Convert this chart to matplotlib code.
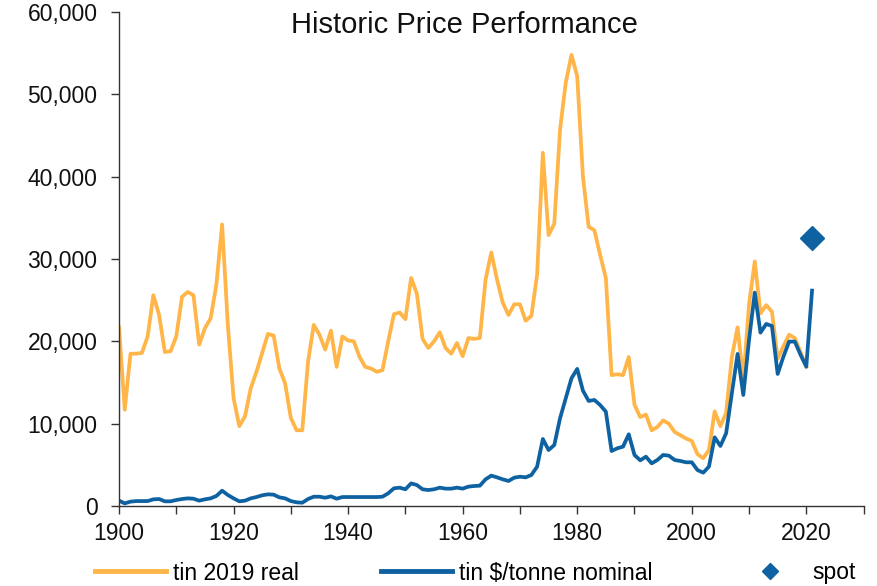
import matplotlib.pyplot as plt
import matplotlib.ticker as mticker
from matplotlib.lines import Line2D

plt.rcParams['font.family'] = ['Liberation Sans', 'DejaVu Sans']

# tin 2019 real, 1900-2020
real_years = list(range(1900, 2021))
real = [21700, 11700, 18500, 18500, 18600, 20600, 25600, 23200, 18700, 18800,
        20600, 25400, 26000, 25600, 19600, 21600, 22800, 26900, 34200, 22000,
        13100, 9700, 10900, 14300, 16300, 18600, 20900, 20700, 16700, 14900,
        10700, 9200, 9200, 17500, 22000, 20800, 19000, 21300, 16900, 20600,
        20100, 20000, 18100, 16900, 16700, 16300, 16500, 20000, 23300, 23500,
        22700, 27700, 25800, 20300, 19200, 20000, 21100, 19200, 18500, 19800,
        18200, 20400, 20300, 20400, 27500, 30800, 27500, 24700, 23200, 24500,
        24500, 22500, 23100, 28100, 42900, 32900, 34300, 45700, 51400, 54800,
        52200, 40000, 33900, 33500, 30500, 27700, 15900, 16000, 15900, 18100,
        12300, 10800, 11100, 9200, 9600, 10400, 10000, 9000, 8600, 8200,
        7900, 6300, 5800, 6800, 11500, 9700, 11300, 18100, 21700, 15300,
        24500, 29700, 23400, 24400, 23600, 17900, 19400, 20800, 20400, 18700,
        16900]

# tin $/tonne nominal, 1900-2021
nominal_years = list(range(1900, 2022))
nominal = [650, 320, 530, 600, 600, 600, 810, 850, 570, 570,
           730, 850, 930, 890, 650, 810, 930, 1220, 1860, 1340,
           930, 570, 650, 930, 1090, 1300, 1420, 1380, 1050, 930,
           600, 450, 400, 850, 1130, 1130, 1010, 1170, 890, 1090,
           1090, 1090, 1090, 1090, 1090, 1090, 1130, 1540, 2150, 2230,
           2030, 2750, 2550, 2030, 1940, 2030, 2230, 2110, 2110, 2230,
           2110, 2350, 2430, 2470, 3240, 3690, 3480, 3240, 3040, 3440,
           3560, 3480, 3770, 4780, 8140, 6800, 7410, 10650, 13080, 15510,
           16650, 14010, 12760, 12880, 12270, 11460, 6680, 7010, 7210, 8710,
           6200, 5550, 5990, 5180, 5590, 6200, 6120, 5590, 5470, 5310,
           5310, 4370, 4050, 4780, 8340, 7290, 8830, 13690, 18470, 13490,
           20170, 25920, 21060, 22110, 21870, 16040, 18140, 19970, 19970, 18350,
           16930, 26160]

spot_year = [2021]
spot = [32500]

orange = '#FFB547'
blue = '#0F62A2'

fig = plt.figure(figsize=(8.77, 5.86), dpi=100)
ax = fig.add_axes([0.1357, 0.1365, 0.849, 0.843])

ax.plot(real_years, real, color=orange, lw=2.7, solid_joinstyle='round')
ax.plot(nominal_years, nominal, color=blue, lw=2.7, solid_joinstyle='round')
ax.plot(spot_year, spot, 'D', color=blue, ms=12, mec=blue)

ax.set_xlim(1900, 2030)
ax.set_ylim(0, 60000)
ax.set_xticks(range(1900, 2031, 10))
ax.set_xticklabels([str(y) if (y - 1900) % 20 == 0 and y < 2030 else ''
                    for y in range(1900, 2031, 10)])
ax.yaxis.set_major_locator(mticker.MultipleLocator(10000))
ax.yaxis.set_major_formatter(mticker.FuncFormatter(lambda v, p: f'{int(v):,}'))

for s in ['top', 'right']:
    ax.spines[s].set_visible(False)
for s in ['left', 'bottom']:
    ax.spines[s].set_color('#333333')
    ax.spines[s].set_linewidth(1.0)
ax.tick_params(direction='out', length=5.5, width=1.0, color='#333333',
               labelsize=16.5, labelcolor='#111111')
ax.tick_params(axis='y', pad=10)
ax.tick_params(axis='x', pad=6)

ax.text(0.464, 0.9575, 'Historic Price Performance', transform=ax.transAxes,
        ha='center', va='baseline', fontsize=21, color='#111111')

handles = [Line2D([], [], color=orange, lw=3.5),
           Line2D([], [], color=blue, lw=3.5),
           Line2D([], [], color=blue, ls='none', marker='D', ms=8.5)]
labels = ['tin 2019 real', r'tin \$/tonne nominal', 'spot']
fig.legend(handles, labels, loc='center', bbox_to_anchor=(0.542, 1 - 573 / 586),
           ncol=3, frameon=False, fontsize=16.5, handlelength=3.1,
           handletextpad=0.3, columnspacing=3.6, borderaxespad=0)

fig.savefig('out.png', dpi=100)
